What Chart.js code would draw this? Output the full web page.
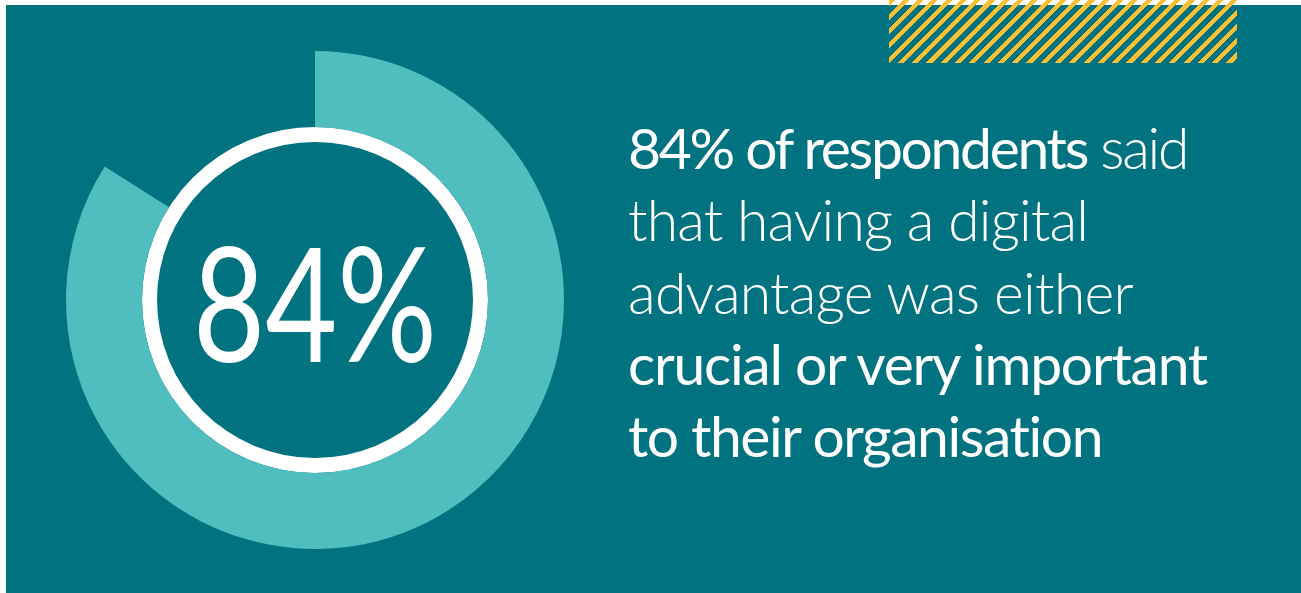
<!DOCTYPE html>
<html>
<head>
<meta charset="utf-8">
<script src="https://cdn.jsdelivr.net/npm/chart.js@4"></script>
<style>
  html, body { margin: 0; padding: 0; background: #fff; }
  body { width: 1301px; height: 593px; position: relative; overflow: hidden; font-family: Lato, "Open Sans", sans-serif; }
  #panel { position: absolute; left: 6px; top: 5px; width: 1295px; height: 588px; background: #017380; }
  #hatch { position: absolute; left: 889px; top: 0; width: 348px; height: 63px;
    background: repeating-linear-gradient(135deg, #FBBF33 0px, #FBBF33 4.3px, transparent 4.3px, transparent 10.1px); }
  #donut { position: absolute; left: 66px; top: 51px; width: 498px; height: 498px; }
  #big { position: absolute; left: 315px; top: 300px; color: #fff; font-weight: 400; font-size: 160px;
    white-space: nowrap; line-height: 1; transform-origin: 0 0; }
  .line { position: absolute; left: 628px; color: #fff; font-size: 57px; font-weight: 300; white-space: nowrap; line-height: 1; }
  .b { font-weight: 400; }
</style>
</head>
<body>
<div id="panel"></div>
<div id="hatch"></div>
<div id="donut"><canvas id="chart"></canvas></div>
<div id="big">84%</div>
<div class="line" data-w="559" data-base="165"><span class="b">84% of respondents</span> said</div>
<div class="line" data-w="460" data-base="237">that having a digital</div>
<div class="line" data-w="505" data-base="310">advantage was either</div>
<div class="line b" data-w="579" data-base="381">crucial or very important</div>
<div class="line b" data-w="475" data-base="453">to their organisation</div>
<script>
// share of respondents
var labels = ["Crucial or very important", "Other"];
var shares = [84, 16];
var ringValue = [100];

var ctx = document.getElementById("chart");
new Chart(ctx, {
    type: 'doughnut',
    data: {
        labels: labels,
        datasets: [{
            data: shares,
            backgroundColor: ["#50BEBF", "rgba(0,0,0,0)"],
            borderWidth: 0,
            weight: 76
        }, {
            data: ringValue,
            backgroundColor: ["#FFFFFF"],
            borderWidth: 0,
            weight: 15
        }]
    },
    options: {
        responsive: true,
        maintainAspectRatio: false,
        animation: false,
        cutout: '63.45%',
        layout: { padding: 0 },
        events: [],
        plugins: {
            legend: { display: false },
            tooltip: { enabled: false },
            title: { display: false }
        }
    }
});

// fit text lines to the widths
document.querySelectorAll('.line').forEach(function (el) {
    var w = el.getBoundingClientRect().width;
    var n = el.textContent.length;
    el.style.letterSpacing = ((+el.dataset.w - w) / n) + 'px';
    el.style.top = (+el.dataset.base - 57 * 0.81) + 'px';
});
var big = document.getElementById('big');
var r = big.getBoundingClientRect();
big.style.transform = 'scale(' + (244 / r.width) + ',1) translate(-50%, -50%)';
</script>
</body>
</html>
